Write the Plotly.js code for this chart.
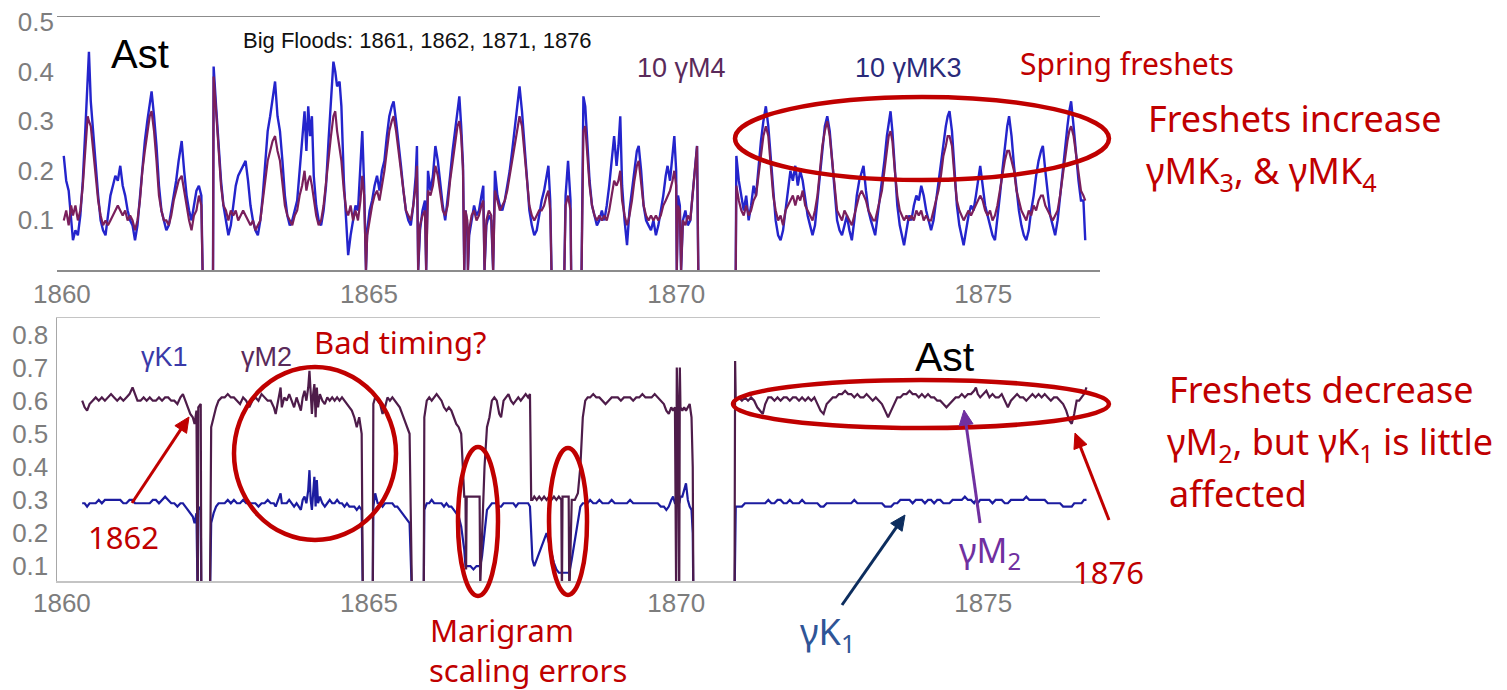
<!DOCTYPE html>
<html>
<head>
<meta charset="utf-8">
<script src="https://cdn.plot.ly/plotly-3.0.1.min.js"></script>
<style>html,body{margin:0;padding:0;background:#fff;}#chart{width:1507px;height:690px;}</style>
</head>
<body>
<div id="chart"></div>
<script>
// ---------- Top panel: 10 γMK3 (blue) and 10 γM4 (purple) ----------
var topYears = [
1860.03,1860.07,1860.11,1860.15,1860.18,1860.22,1860.26,1860.30,1860.34,1860.38,
1860.42,1860.44,1860.47,1860.51,1860.55,1860.59,1860.63,1860.67,1860.71,1860.75,
1860.79,1860.83,1860.87,1860.91,1860.95,1860.99,1861.03,1861.07,1861.11,1861.15,
1861.19,1861.23,1861.27,1861.31,1861.35,1861.39,1861.43,1861.46,1861.50,1861.54,
1861.58,1861.62,1861.66,1861.70,1861.74,1861.78,1861.82,1861.86,1861.90,1861.95,
1861.99,1862.03,1862.07,1862.11,1862.15,1862.19,1862.23,1862.27,1862.29,1862.30,
1862.46,1862.47,1862.51,1862.55,1862.59,1862.63,1862.67,1862.71,1862.75,1862.79,
1862.83,1862.87,1862.91,1862.95,1862.99,1863.03,1863.07,1863.11,1863.15,1863.19,
1863.23,1863.27,1863.31,1863.35,1863.39,1863.43,1863.47,1863.51,1863.55,1863.59,
1863.63,1863.67,1863.71,1863.75,1863.79,1863.83,1863.87,1863.91,1863.95,1863.98,
1864.01,1864.04,1864.07,1864.10,1864.14,1864.18,1864.22,1864.26,1864.30,1864.34,
1864.38,1864.42,1864.45,1864.48,1864.52,1864.55,1864.59,1864.63,1864.66,1864.70,
1864.74,1864.78,1864.82,1864.86,1864.89,1864.92,1864.95,1864.97,1865.01,1865.05,
1865.09,1865.13,1865.17,1865.21,1865.25,1865.29,1865.33,1865.37,1865.40,1865.44,
1865.48,1865.52,1865.56,1865.60,1865.64,1865.68,1865.72,1865.76,1865.78,1865.80,
1865.83,1865.87,1865.91,1865.93,1865.96,1866.00,1866.04,1866.08,1866.12,1866.16,
1866.20,1866.24,1866.28,1866.32,1866.36,1866.40,1866.44,1866.47,1866.50,1866.53,
1866.55,1866.57,1866.60,1866.61,1866.63,1866.67,1866.71,1866.75,1866.79,1866.83,
1866.86,1866.88,1866.91,1866.95,1866.99,1867.02,1867.05,1867.09,1867.13,1867.17,
1867.21,1867.25,1867.29,1867.33,1867.37,1867.41,1867.45,1867.49,1867.53,1867.57,
1867.61,1867.65,1867.69,1867.73,1867.77,1867.81,1867.85,1867.89,1867.92,1867.95,
1867.97,1867.98,1868.18,1868.20,1868.24,1868.28,1868.29,1868.30,1868.46,1868.49,
1868.52,1868.55,1868.59,1868.63,1868.67,1868.71,1868.75,1868.79,1868.83,1868.87,
1868.91,1868.95,1868.99,1869.03,1869.06,1869.09,1869.12,1869.16,1869.20,1869.24,
1869.28,1869.32,1869.36,1869.39,1869.43,1869.47,1869.51,1869.55,1869.59,1869.63,
1869.67,1869.71,1869.75,1869.79,1869.83,1869.86,1869.90,1869.94,1869.97,1870.00,
1870.01,1870.03,1870.06,1870.08,1870.11,1870.15,1870.19,1870.23,1870.27,1870.31,
1870.34,1870.36,1870.37,1870.97,1870.98,1871.02,1871.06,1871.10,1871.14,1871.18,
1871.22,1871.26,1871.30,1871.34,1871.38,1871.42,1871.46,1871.50,1871.54,1871.58,
1871.62,1871.66,1871.70,1871.74,1871.78,1871.82,1871.86,1871.90,1871.94,1871.98,
1872.02,1872.06,1872.10,1872.14,1872.18,1872.22,1872.26,1872.30,1872.34,1872.38,
1872.42,1872.46,1872.50,1872.54,1872.58,1872.62,1872.66,1872.70,1872.74,1872.78,
1872.82,1872.86,1872.90,1872.94,1872.98,1873.02,1873.05,1873.09,1873.13,1873.17,
1873.21,1873.24,1873.28,1873.32,1873.35,1873.39,1873.43,1873.46,1873.49,1873.52,
1873.56,1873.60,1873.64,1873.68,1873.71,1873.75,1873.79,1873.83,1873.87,1873.91,
1873.95,1873.99,1874.03,1874.07,1874.11,1874.15,1874.19,1874.23,1874.27,1874.31,
1874.35,1874.39,1874.42,1874.45,1874.49,1874.53,1874.57,1874.61,1874.65,1874.68,
1874.72,1874.76,1874.80,1874.84,1874.88,1874.92,1874.95,1874.99,1875.03,1875.07,
1875.11,1875.15,1875.19,1875.23,1875.27,1875.31,1875.35,1875.39,1875.42,1875.46,
1875.50,1875.54,1875.58,1875.62,1875.66,1875.70,1875.74,1875.78,1875.82,1875.86,
1875.90,1875.94,1875.97,1876.01,1876.05,1876.09,1876.13,1876.17,1876.21,1876.25,
1876.29,1876.33,1876.37,1876.40,1876.43,1876.47,1876.51,1876.55,1876.59,1876.63,
1876.66
];
var topMK3 = [
.23,.18,.16,.10,.06,.08,.07,.11,.18,.28,
.38,.44,.34,.27,.20,.15,.10,.08,.07,.11,
.15,.17,.19,.18,.21,.17,.15,.12,.10,.09,
.06,.09,.15,.21,.26,.30,.34,.36,.31,.25,
.17,.12,.10,.08,.09,.12,.15,.18,.22,.26,
.20,.15,.12,.10,.13,.16,.17,.15,0,null,
0,.41,.33,.25,.18,.13,.10,.07,.09,.13,
.17,.19,.20,.21,.22,.18,.13,.10,.08,.07,
.10,.15,.22,.28,.31,.35,.38,.31,.28,.22,
.15,.11,.09,.10,.12,.14,.20,.27,.32,.24,
.33,.27,.31,.19,.13,.10,.09,.12,.17,.26,
.34,.42,.40,.37,.38,.33,.18,.08,.03,.07,
.10,.13,.12,.20,.28,.17,0,.08,.12,.14,
.17,.19,.16,.20,.22,.27,.31,.33,.34,.30,
.26,.21,.16,.12,.10,.09,.13,.19,.25,0,
.08,.12,.14,0,.20,.16,.19,.25,.22,.17,
.13,.10,.14,.19,.24,.28,.32,.35,.29,.21,
0,.12,.09,0,.07,.10,.13,.11,.12,.15,
.17,0,.09,.11,.10,0,.20,.15,.13,.12,
.14,.17,.20,.24,.28,.32,.37,.32,.25,.18,
.12,.09,.07,.08,.11,.14,.16,.19,.21,.14,
0,null,0,.15,.22,.14,0,null,0,.35,
.33,.26,.18,.13,.11,.09,.10,.12,.10,.13,
.17,.22,.27,.21,.25,.31,.17,.10,.05,.12,
.16,.20,.24,.25,.20,.13,.10,.09,.08,.10,
.07,.09,.12,.15,.19,.21,.18,.24,.27,.20,
0,.15,.13,0,.10,.12,.09,.10,.15,.21,
.25,0,null,0,.23,.18,.15,.12,.15,.10,
.13,.17,.15,.21,.26,.30,.33,.29,.22,.15,
.10,.07,.06,.08,.12,.16,.20,.18,.21,.17,
.20,.18,.14,.11,.09,.07,.09,.14,.20,.25,
.29,.31,.28,.22,.15,.10,.08,.07,.09,.11,
.08,.06,.10,.15,.18,.20,.21,.16,.12,.10,
.08,.07,.11,.15,.17,.22,.27,.30,.32,.28,
.20,.13,.09,.07,.05,.08,.11,.10,.13,.15,
.14,.17,.15,.12,.10,.08,.10,.14,.17,.21,
.26,.29,.31,.32,.28,.20,.13,.09,.07,.05,
.08,.11,.13,.12,.15,.18,.21,.17,.13,.11,
.09,.07,.06,.10,.15,.20,.25,.29,.31,.27,
.21,.16,.12,.09,.07,.06,.08,.12,.15,.19,
.22,.24,.25,.20,.15,.11,.09,.07,.10,.15,
.20,.25,.29,.32,.34,.29,.23,.18,.14,.14,
.06
];
var topM4 = [
.10,.12,.09,.13,.11,.13,.10,.12,.17,.25,
.31,.30,.29,.24,.19,.14,.11,.09,.10,.09,
.10,.11,.12,.13,.12,.11,.12,.10,.11,.10,
.08,.10,.14,.20,.24,.28,.31,.32,.28,.22,
.15,.12,.10,.10,.09,.11,.14,.16,.18,.19,
.16,.13,.10,.08,.11,.12,.15,.13,0,null,
0,.39,.32,.24,.17,.13,.12,.10,.12,.11,
.12,.10,.11,.12,.11,.10,.09,.10,.08,.09,
.10,.14,.18,.22,.24,.26,.27,.24,.22,.17,
.13,.11,.10,.09,.11,.12,.15,.17,.20,.16,
.18,.19,.17,.14,.11,.09,.10,.13,.18,.22,
.27,.31,.32,.28,.25,.22,.16,.12,.11,.13,
.10,.12,.10,.14,.19,.15,0,.07,.10,.13,
.15,.16,.14,.17,.20,.24,.28,.30,.31,.28,
.24,.19,.15,.12,.11,.10,.13,.17,.21,0,
.09,.11,.12,0,.16,.15,.17,.21,.19,.15,
.12,.11,.13,.18,.22,.26,.29,.30,.27,.20,
0,.12,.10,0,.08,.11,.12,.10,.11,.13,
.14,0,.10,.12,.11,0,.16,.14,.12,.13,
.14,.16,.19,.22,.25,.28,.31,.29,.24,.18,
.13,.11,.10,.11,.12,.12,.13,.15,.16,.12,
0,null,0,.13,.15,.12,0,null,0,.28,
.29,.24,.17,.13,.11,.10,.11,.10,.11,.10,
.12,.15,.18,.17,.18,.20,.14,.11,.09,.11,
.14,.18,.21,.22,.18,.13,.11,.10,.11,.10,
.11,.10,.11,.13,.14,.15,.16,.18,.20,.17,
0,.13,.12,0,.10,.09,.11,.10,.15,.21,
.25,0,null,0,.17,.14,.12,.11,.13,.11,
.12,.14,.15,.19,.23,.27,.29,.27,.21,.15,
.12,.10,.11,.09,.12,.13,.14,.15,.13,.15,
.14,.16,.13,.12,.11,.10,.12,.15,.20,.25,
.28,.30,.27,.22,.16,.12,.11,.10,.12,.11,
.10,.09,.11,.13,.15,.16,.15,.14,.12,.11,
.10,.10,.12,.14,.16,.20,.24,.27,.28,.26,
.20,.15,.12,.11,.10,.11,.10,.11,.10,.12,
.11,.12,.10,.11,.10,.10,.12,.14,.16,.19,
.23,.25,.27,.27,.25,.19,.14,.12,.11,.10,
.11,.12,.11,.12,.13,.14,.15,.14,.12,.11,
.12,.10,.11,.13,.16,.19,.22,.24,.24,.22,
.20,.16,.14,.12,.11,.10,.12,.11,.13,.12,
.14,.15,.15,.13,.12,.11,.10,.11,.12,.15,
.19,.23,.26,.28,.29,.27,.23,.19,.16,.15,
.14
];

// ---------- Bottom panel: γK1 (blue) and γM2 (purple) ----------
var botYears = [
1860.33,1860.37,1860.41,1860.45,1860.50,1860.55,1860.60,1860.65,1860.70,1860.75,
1860.80,1860.85,1860.90,1860.95,1861.00,1861.05,1861.10,1861.15,1861.19,1861.23,
1861.28,1861.33,1861.38,1861.43,1861.48,1861.53,1861.58,1861.63,1861.68,1861.73,
1861.78,1861.83,1861.88,1861.93,1861.97,1862.01,1862.05,1862.09,1862.13,1862.16,
1862.19,1862.21,1862.22,1862.26,1862.27,1862.28,1862.41,1862.43,1862.47,1862.51,
1862.55,1862.60,1862.65,1862.70,1862.75,1862.80,1862.85,1862.90,1862.95,1863.00,
1863.05,1863.10,1863.15,1863.20,1863.25,1863.30,1863.35,1863.40,1863.45,1863.48,
1863.52,1863.56,1863.58,1863.62,1863.66,1863.70,1863.74,1863.78,1863.82,1863.86,
1863.89,1863.92,1863.95,1863.98,1864.01,1864.03,1864.05,1864.07,1864.09,1864.11,
1864.13,1864.15,1864.17,1864.20,1864.24,1864.28,1864.32,1864.36,1864.40,1864.44,
1864.48,1864.52,1864.56,1864.60,1864.64,1864.68,1864.72,1864.76,1864.80,1864.84,
1864.88,1864.90,1864.91,1865.06,1865.07,1865.10,1865.14,1865.18,1865.22,1865.26,
1865.30,1865.34,1865.38,1865.42,1865.46,1865.50,1865.54,1865.58,1865.62,1865.66,
1865.70,1865.71,1865.89,1865.90,1865.94,1865.98,1866.02,1866.06,1866.10,1866.14,
1866.18,1866.22,1866.26,1866.30,1866.34,1866.38,1866.42,1866.46,1866.50,1866.55,
1866.57,1866.58,1866.59,1866.65,1866.70,1866.75,1866.80,1866.81,1866.84,1866.88,
1866.92,1866.96,1867.00,1867.04,1867.08,1867.12,1867.15,1867.19,1867.23,1867.27,
1867.31,1867.35,1867.39,1867.43,1867.47,1867.51,1867.55,1867.59,1867.62,1867.64,
1867.66,1867.69,1867.73,1867.77,1867.81,1867.85,1867.89,1867.93,1867.97,1868.01,
1868.05,1868.09,1868.13,1868.14,1868.15,1868.25,1868.26,1868.30,1868.35,1868.40,
1868.44,1868.48,1868.52,1868.56,1868.60,1868.65,1868.70,1868.75,1868.80,1868.85,
1868.90,1868.95,1869.00,1869.05,1869.10,1869.15,1869.20,1869.25,1869.30,1869.35,
1869.40,1869.45,1869.50,1869.55,1869.60,1869.65,1869.70,1869.75,1869.80,1869.84,
1869.88,1869.92,1869.95,1869.98,1870.00,1870.01,1870.03,1870.05,1870.06,1870.07,
1870.10,1870.13,1870.16,1870.19,1870.22,1870.25,1870.27,1870.28,1870.29,1870.95,
1870.96,1870.97,1871.02,1871.07,1871.12,1871.17,1871.22,1871.27,1871.32,1871.37,
1871.41,1871.45,1871.50,1871.55,1871.60,1871.65,1871.70,1871.75,1871.80,1871.85,
1871.90,1871.95,1872.00,1872.05,1872.10,1872.15,1872.20,1872.25,1872.30,1872.35,
1872.40,1872.45,1872.50,1872.55,1872.60,1872.65,1872.70,1872.75,1872.80,1872.85,
1872.90,1872.95,1873.00,1873.05,1873.10,1873.15,1873.20,1873.25,1873.30,1873.35,
1873.40,1873.45,1873.50,1873.55,1873.60,1873.65,1873.70,1873.75,1873.80,1873.85,
1873.90,1873.95,1874.00,1874.05,1874.10,1874.15,1874.20,1874.25,1874.30,1874.35,
1874.40,1874.45,1874.50,1874.55,1874.60,1874.65,1874.70,1874.75,1874.80,1874.85,
1874.88,1874.91,1874.95,1875.00,1875.05,1875.10,1875.15,1875.20,1875.25,1875.30,
1875.35,1875.40,1875.45,1875.50,1875.55,1875.60,1875.65,1875.70,1875.75,1875.80,
1875.85,1875.90,1875.95,1876.00,1876.05,1876.10,1876.15,1876.20,1876.25,1876.30,
1876.35,1876.40,1876.44,1876.48,1876.52,1876.56,1876.60,1876.64,1876.68
];
var botK1 = [
.29,.29,.28,.29,.29,.29,.30,.29,.30,.30,
.30,.30,.30,.30,.29,.29,.30,.30,.29,.29,
.29,.29,.29,.29,.30,.30,.29,.30,.31,.30,
.29,.29,.28,.29,.29,.28,.27,.26,.25,.23,
.26,0,.27,.28,0,null,0,.23,.26,.28,
.29,.29,.29,.30,.29,.30,.29,.29,.30,.29,
.29,.29,.29,.28,.29,.29,.30,.29,.29,.28,
.30,.32,.29,.29,.29,.30,.29,.28,.29,.28,
.27,.30,.31,.29,.33,.39,.30,.27,.33,.37,
.28,.36,.29,.31,.29,.28,.29,.30,.29,.29,
.30,.29,.29,.28,.29,.28,.28,.28,.27,.28,
.27,0,null,0,.28,.32,.29,.29,.28,.29,
.29,.29,.29,.28,.28,.27,.26,.25,.24,.23,
0,null,0,.27,.29,.29,.30,.29,.29,.29,
.29,.28,.29,.28,.28,.27,.26,.25,.22,.15,
.10,.10,.10,.10,.09,.10,.10,.10,.13,.20,
.27,.28,.29,.29,.29,.28,.28,.29,.29,.29,
.29,.29,.28,.29,.29,.29,.29,.29,.28,.20,
.12,.10,.12,.14,.16,.18,.20,.17,.14,.11,
.09,.08,.08,.08,.08,.08,.08,.12,.18,.24,
.28,.29,.29,.29,.30,.29,.29,.30,.29,.29,
.29,.30,.29,.29,.29,.29,.29,.30,.29,.29,
.29,.29,.29,.29,.29,.29,.29,.28,.28,.27,
.28,.30,.31,.29,.29,.30,.31,.29,.30,.31,
.31,.33,.35,.30,.28,.27,.20,0,null,0,
.28,.28,.28,.28,.29,.29,.29,.29,.29,.29,
.29,.29,.30,.29,.29,.30,.30,.29,.29,.30,
.29,.29,.29,.30,.29,.29,.29,.29,.29,.28,
.28,.29,.29,.29,.29,.29,.29,.29,.29,.29,
.30,.29,.29,.29,.29,.29,.29,.29,.29,.29,
.28,.28,.28,.29,.29,.30,.30,.30,.30,.29,
.30,.30,.30,.29,.30,.30,.29,.30,.30,.29,
.29,.29,.30,.30,.30,.30,.31,.30,.30,.29,
.30,.29,.30,.30,.30,.30,.29,.30,.30,.30,
.29,.29,.30,.30,.30,.30,.30,.31,.30,.30,
.30,.30,.30,.30,.29,.29,.29,.29,.29,.28,
.28,.28,.28,.29,.29,.29,.29,.30,.30
];
var botM2 = [
.60,.58,.57,.59,.60,.61,.60,.61,.60,.61,
.62,.61,.60,.61,.60,.61,.62,.64,.62,.60,
.60,.61,.60,.61,.60,.60,.61,.60,.61,.61,
.60,.60,.59,.61,.62,.60,.58,.56,.55,.53,
.57,0,.58,.59,0,null,0,.52,.55,.58,
.60,.61,.61,.62,.61,.61,.60,.59,.61,.60,
.58,.60,.61,.60,.62,.61,.60,.60,.58,.56,
.60,.64,.58,.61,.60,.62,.60,.58,.61,.59,
.57,.61,.63,.60,.64,.69,.60,.56,.62,.65,
.55,.64,.58,.62,.60,.59,.61,.60,.61,.60,
.61,.60,.61,.60,.59,.58,.57,.55,.52,.55,
.50,0,null,0,.59,.61,.60,.59,.56,.58,
.61,.60,.61,.60,.59,.58,.56,.54,.52,.50,
0,null,0,.55,.60,.61,.60,.61,.62,.61,
.60,.58,.57,.58,.57,.55,.53,.52,.50,.31,
.31,.09,.31,.31,.31,.31,.31,.04,.20,.40,
.52,.55,.60,.61,.60,.56,.55,.60,.61,.62,
.60,.59,.60,.61,.60,.61,.62,.61,.62,.30,
.30,.31,.30,.31,.30,.31,.30,.31,.30,.31,
.30,.31,.30,0,.31,.31,0,.30,.30,.32,
.40,.55,.60,.61,.61,.62,.61,.61,.60,.59,
.60,.61,.61,.61,.60,.61,.61,.61,.60,.61,
.61,.62,.61,.61,.61,.62,.61,.60,.59,.57,
.56,.58,.57,.58,0,.70,.57,0,.70,.58,
.57,.58,.57,.58,.59,.55,.40,0,null,0,
.72,.60,.61,.60,.61,.60,.61,.60,.58,.57,
.56,.59,.61,.61,.60,.61,.60,.61,.61,.60,
.61,.61,.60,.61,.60,.61,.60,.61,.59,.57,
.56,.59,.60,.61,.61,.62,.62,.63,.62,.62,
.61,.62,.61,.61,.62,.61,.60,.61,.60,.59,
.57,.55,.57,.59,.61,.61,.62,.62,.63,.62,
.62,.61,.62,.61,.62,.61,.61,.60,.60,.59,
.58,.59,.60,.61,.61,.62,.61,.62,.62,.63,
.64,.62,.61,.62,.63,.61,.62,.61,.61,.62,
.60,.58,.60,.61,.62,.61,.61,.60,.61,.62,
.61,.62,.61,.62,.61,.60,.61,.61,.60,.59,
.57,.54,.53,.56,.60,.60,.61,.62,.64
];

var xTicks = [1860, 1865, 1870, 1875];
var yTicksTop = [0.1, 0.2, 0.3, 0.4, 0.5];
var yTicksBot = [0.1, 0.2, 0.3, 0.4, 0.5, 0.6, 0.7, 0.8];

var W = 1507, H = 690;
function px(x){ return x / W; }
function py(y){ return 1 - y / H; }

var RED = '#c00000';
var CAL = 'Noto Sans, Open Sans, sans-serif';
var ARI = 'Liberation Sans, Arial, sans-serif';

var traces = [
  {x: topYears, y: topMK3, xaxis:'x', yaxis:'y', mode:'lines', connectgaps:false,
   line:{color:'#2424cc', width:2.4}, name:'10 γMK3'},
  {x: topYears, y: topM4, xaxis:'x', yaxis:'y', mode:'lines', connectgaps:false,
   line:{color:'#7a1f5c', width:2.2}, name:'10 γM4'},
  {x: botYears, y: botK1, xaxis:'x2', yaxis:'y2', mode:'lines', connectgaps:false,
   line:{color:'#1c1ca0', width:2.2}, name:'γK1'},
  {x: botYears, y: botM2, xaxis:'x2', yaxis:'y2', mode:'lines', connectgaps:false,
   line:{color:'#4e1c4a', width:2.2}, name:'γM2'}
];

var tickFont = {family: ARI, size: 26, color: '#7d7d7d'};
var xDom = [px(57), px(1100)];
var xRange = [1859.92, 1876.9];

function txt(t, x, y, size, color, family, xanchor){
  return {text:t, x:px(x), y:py(y), xref:'paper', yref:'paper', showarrow:false,
          xanchor: xanchor || 'center', yanchor:'middle',
          font:{size:size, color:color, family:family}};
}
// arrow drawn as a line shape plus a filled triangular head (pixel coords -> paper)
function arrowShapes(tx, ty, hx, hy, color){
  var dx = hx - tx, dy = hy - ty, L = Math.sqrt(dx*dx + dy*dy);
  var ux = dx / L, uy = dy / L, hl = 15, hw = 7;
  var bx = hx - ux*hl, by = hy - uy*hl;
  var p1x = bx - uy*hw, p1y = by + ux*hw, p2x = bx + uy*hw, p2y = by - ux*hw;
  return [
    {type:'line', xref:'paper', yref:'paper', x0:px(tx), y0:py(ty), x1:px(bx+ux*2), y1:py(by+uy*2),
     line:{color:color, width:3}},
    {type:'path', xref:'paper', yref:'paper',
     path:'M '+px(hx)+' '+py(hy)+' L '+px(p1x)+' '+py(p1y)+' L '+px(p2x)+' '+py(p2y)+' Z',
     fillcolor:color, line:{color:color, width:1}}
  ];
}
function ellipse(x0, y0, x1, y1){
  return {type:'circle', xref:'paper', yref:'paper', x0:px(x0), x1:px(x1), y0:py(y1), y1:py(y0),
          line:{color:RED, width:4.5}, fillcolor:'rgba(0,0,0,0)'};
}

var annotations = [
  txt('Ast', 140, 54, 40, '#000', ARI),
  txt('Big Floods: 1861, 1862, 1871, 1876', 241, 40, 22, '#111', ARI, 'left'),
  txt('10 γM4', 681, 68, 27, '#5a2a5a', ARI),
  txt('10 γMK3', 908, 68, 27, '#2a2a7a', ARI),
  txt('Spring freshets', 1018, 63, 30, RED, CAL, 'left'),
  txt('Freshets increase', 1146, 118, 36, RED, CAL, 'left'),
  txt('γMK<sub>3</sub>, & γMK<sub>4</sub>', 1144, 172, 36, RED, CAL, 'left'),
  txt('Freshets decrease', 1167, 390, 36, RED, CAL, 'left'),
  txt('γM<sub>2</sub>, but γK<sub>1</sub> is little', 1165, 443, 36, RED, CAL, 'left'),
  txt('affected', 1167, 493, 36, RED, CAL, 'left'),
  txt('γK1', 164, 357, 27, '#3a3aa8', ARI),
  txt('γM2', 266, 357, 27, '#5a2a5a', ARI),
  txt('Bad timing?', 400, 342, 31, RED, CAL),
  txt('Ast', 945, 357, 41, '#000', ARI),
  txt('1862', 123, 537, 31, RED, CAL),
  txt('γM<sub>2</sub>', 990, 552, 34, '#7030a0', CAL),
  txt('1876', 1108, 572, 31, RED, CAL),
  txt('γK<sub>1</sub>', 827, 633, 36, '#2f5597', CAL),
  txt('Marigram', 502, 630, 31, RED, CAL),
  txt('scaling errors', 528, 670, 31, RED, CAL)
];

var shapes = [
  ellipse(735, 97, 1109, 180),
  ellipse(234, 367, 396, 540),
  ellipse(458, 447, 498, 596),
  ellipse(549, 448, 587, 595),
  ellipse(733, 380, 1109, 428)
].concat(
  arrowShapes(132, 503, 189, 417, RED),
  arrowShapes(980, 523, 964, 410, '#7030a0'),
  arrowShapes(842, 605, 905, 515, '#0c2d5e'),
  arrowShapes(1109, 520, 1075, 433, RED)
);

var layout = {
  width: W, height: H,
  margin: {l:0, r:0, t:0, b:0},
  paper_bgcolor:'#ffffff', plot_bgcolor:'#ffffff',
  showlegend:false,
  xaxis: {domain:xDom, range:xRange, anchor:'y', tickvals:xTicks, ticks:'',
          showline:true, mirror:true, linecolor:'#8c8c8c', linewidth:1.5,
          showgrid:false, zeroline:false, tickfont:tickFont, ticklabelstandoff:0},
  yaxis: {domain:[py(270), py(17)], range:[0, 0.51], anchor:'x', tickvals:yTicksTop,
          tickformat:'.1f', ticks:'', showline:false, showgrid:false, zeroline:false,
          tickfont:tickFont, ticklabelstandoff:2},
  xaxis2: {domain:xDom, range:xRange, anchor:'y2', tickvals:xTicks, ticks:'',
           showline:true, mirror:true, linecolor:'#c4c4c4', linewidth:1.5,
           showgrid:false, zeroline:false, tickfont:tickFont, ticklabelstandoff:-2},
  yaxis2: {domain:[py(581), py(318)], range:[0.055, 0.85], anchor:'x2', tickvals:yTicksBot,
           tickformat:'.1f', ticks:'', showline:true, linecolor:'#a8a8a8', linewidth:1.5,
           showgrid:false, zeroline:false, tickfont:tickFont, ticklabelstandoff:2},
  annotations: annotations,
  shapes: shapes
};

Plotly.newPlot('chart', traces, layout, {staticPlot:true, displayModeBar:false});
</script>
</body>
</html>
